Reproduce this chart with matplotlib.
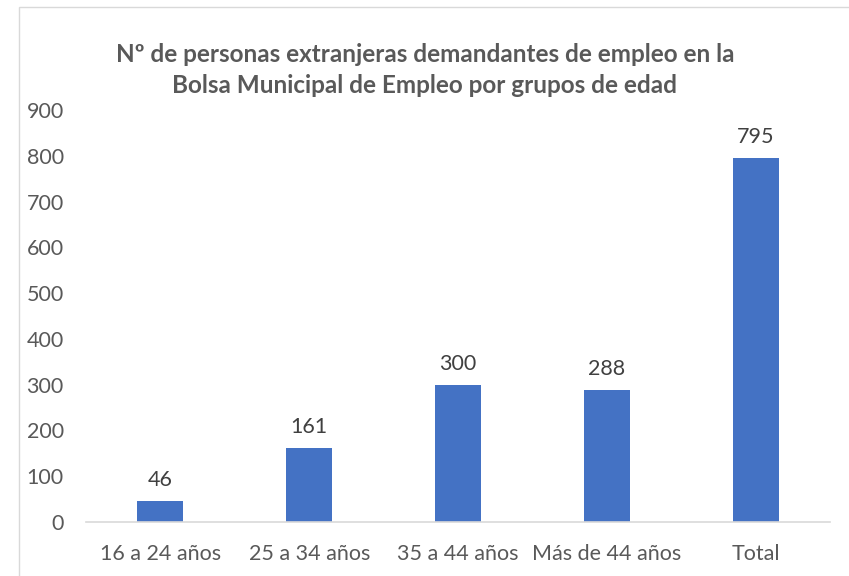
import matplotlib
matplotlib.use("Agg")
import matplotlib.pyplot as plt
from matplotlib.patches import Rectangle

# datos
categorias = ["16 a 24 años", "25 a 34 años", "35 a 44 años", "Más de 44 años", "Total"]
demandantes = [46, 161, 300, 288, 795]
y_ticks = list(range(0, 1000, 100))

TITULO = ("Nº de personas extranjeras demandantes de empleo en la\n"
          "Bolsa Municipal de Empleo por grupos de edad")

AZUL = "#4472C4"
GRIS_TXT = "#595959"
GRIS_LIN = "#D9D9D9"

plt.rcParams["font.family"] = ["Lato", "DejaVu Sans"]

W, H = 849, 576
fig = plt.figure(figsize=(W / 100, H / 100), dpi=100)

# marco del grafico (recortado a derecha y abajo)
fig.patches.append(Rectangle((19 / W, -0.1), 1.2, 1 - 7 / H + 0.1,
                             transform=fig.transFigure, fill=False,
                             edgecolor=GRIS_LIN, lw=1.0))

ax = fig.add_axes([86 / W, 1 - 522 / H, (830 - 86) / W, (522 - 110) / H])
x = range(len(categorias))
bars = ax.bar(x, demandantes, width=0.31, color=AZUL, zorder=2)

for b, v in zip(bars, demandantes):
    ax.annotate(str(v), (b.get_x() + b.get_width() / 2, v),
                xytext=(0, 8), textcoords="offset points",
                ha="center", va="bottom", fontsize=15.5, color="#404040")

ax.set_xlim(-0.5, len(categorias) - 0.5)
ax.set_ylim(0, 900)
ax.set_yticks(y_ticks)
ax.set_xticks(list(x))
ax.set_xticklabels(categorias)
ax.tick_params(axis="both", length=0, labelsize=15.5, labelcolor=GRIS_TXT)
ax.tick_params(axis="y", pad=16)
ax.tick_params(axis="x", pad=16)

for s in ["top", "right", "left"]:
    ax.spines[s].set_visible(False)
ax.spines["bottom"].set_color(GRIS_LIN)
ax.spines["bottom"].set_linewidth(1.2)

fig.text(425 / W, 1 - 70 / H, TITULO, ha="center", va="center",
         fontsize=17.5, fontweight="bold", color=GRIS_TXT, linespacing=1.42)

fig.savefig("out.png", dpi=100)
